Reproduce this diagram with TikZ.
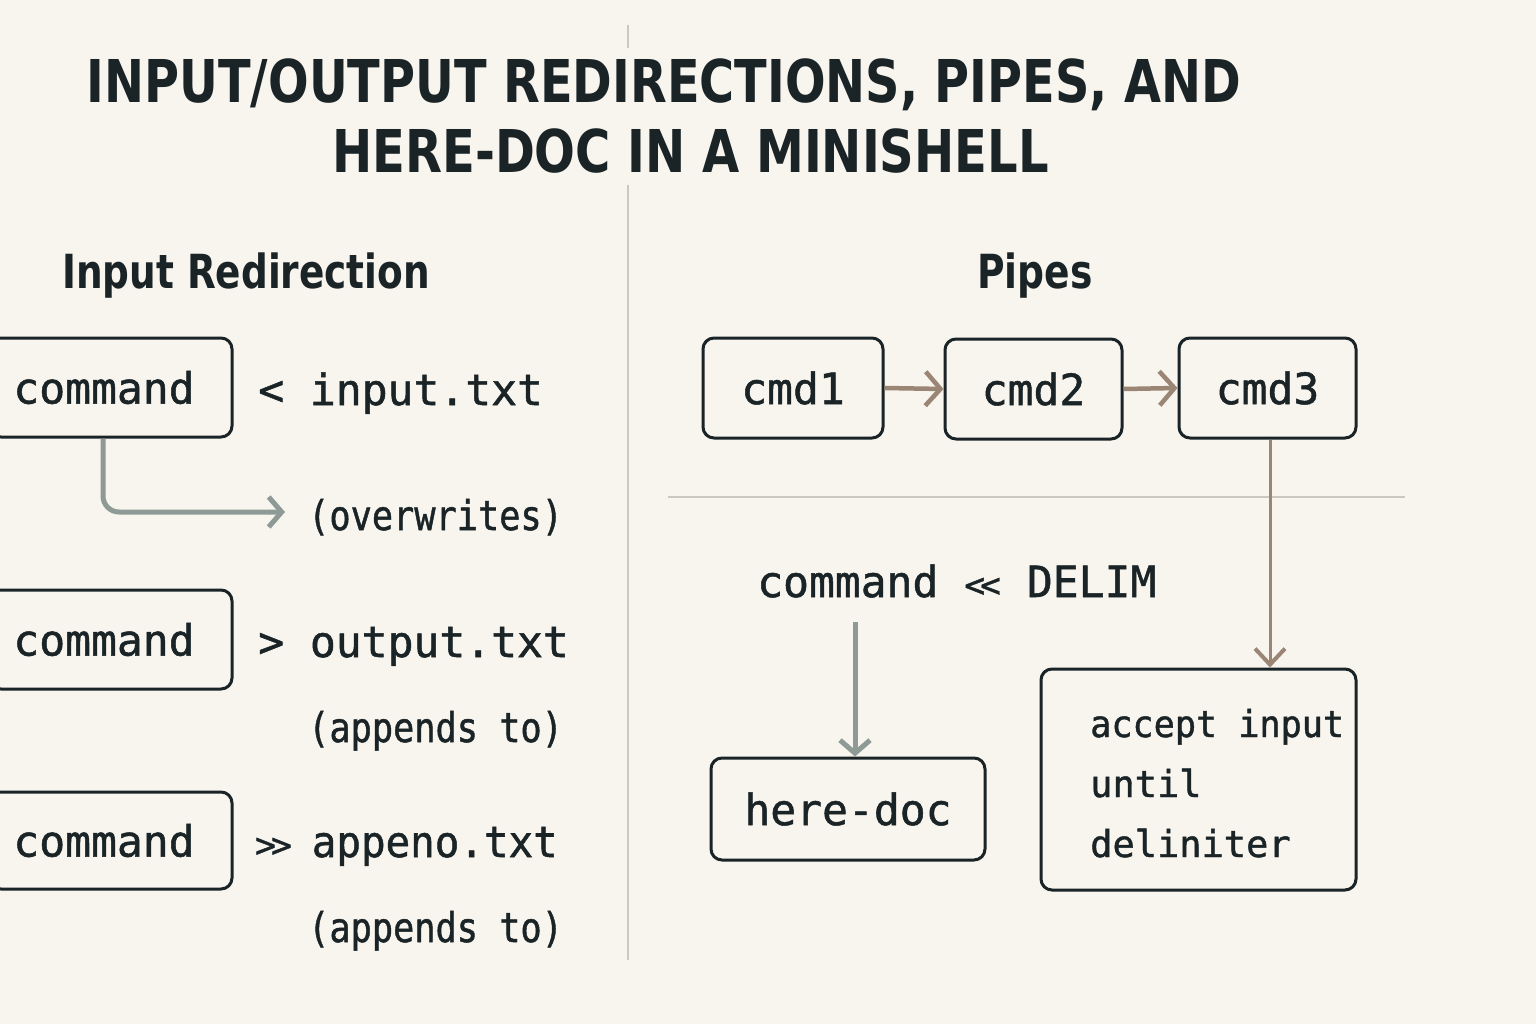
\documentclass[tikz,border=0pt]{standalone}
\usepackage{fontspec}
\usetikzlibrary{arrows.meta}
\newfontfamily\monof{DejaVu Sans Mono}[FakeBold=1.2]
\newfontfamily\titlef{DejaVu Sans Condensed Bold}
\definecolor{bgc}{HTML}{F8F4EE}
\definecolor{ink}{HTML}{1A2427}
\definecolor{grayarr}{HTML}{8E9A95}
\definecolor{brownarr}{HTML}{9B8574}
\definecolor{rule}{HTML}{CBC8C2}
\newcommand{\nx}[1]{\scalebox{0.86}[1]{#1}}
\tikzset{
  box/.style={draw=ink, line width=3pt, rounded corners=11pt, inner sep=0pt, text=ink,
    font=\monof\fontsize{43}{50}\selectfont},
  lbl/.style={anchor=base west, inner sep=0pt, text=ink, font=\monof\fontsize{43}{50}\selectfont},
  sub/.style={anchor=base west, inner sep=0pt, text=ink, font=\monof\fontsize{41}{48}\selectfont},
  grayflow/.style={draw=grayarr, line width=5pt, -{Straight Barb[length=13pt,width=30pt,line width=5pt]}},
  pipeflow/.style={draw=brownarr, line width=4.5pt, -{Straight Barb[length=15pt,width=34pt,line width=4.5pt]}},
  downflow/.style={draw=brownarr, line width=3pt, -{Straight Barb[length=16pt,width=30pt,line width=4pt]}},
  divider/.style={draw=rule, line width=2.5pt},
  ttl/.style={inner sep=0pt, text=ink, font=\titlef\fontsize{59}{66}\selectfont},
  head/.style={inner sep=0pt, text=ink, font=\titlef\fontsize{47}{54}\selectfont}
}
\begin{document}
\begin{tikzpicture}[x=1pt,y=-1pt]
\fill[bgc] (0,0) rectangle (1536,1024);
\useasboundingbox (0,0) rectangle (1536,1024);
% dividers
\draw[divider] (628,25) -- (628,48);
\draw[divider] (628,185) -- (628,960);
\draw[divider] (668,497) -- (1405,497);
% title
\node[ttl, anchor=base] (t1) at (664,103) {\scalebox{0.9}[1]{INPUT/OUTPUT REDIRECTIONS, PIPES, AND}};
\node[ttl, anchor=base] (t2) at (690.5,173) {\scalebox{0.905}[1]{HERE-DOC IN A MINISHELL}};
\node[head, anchor=base west] (h1) at (62,288) {\scalebox{0.885}[1]{Input Redirection}};
\node[head, anchor=base] (h2) at (1035,288) {\scalebox{0.89}[1]{Pipes}};
% left column
\node[box, minimum width=242pt, minimum height=99pt] (c1) at (111,387.5) {\hspace*{-14pt}command};
\node[box, minimum width=242pt, minimum height=99pt] (c2) at (111,639.5) {\hspace*{-14pt}command};
\node[box, minimum width=242pt, minimum height=97pt] (c3) at (111,840.5) {\hspace*{-14pt}command};
\node[lbl] (r1) at (258,405) {< input.txt};
\node[sub] (o1) at (308,530) {\nx{(overwrites)}};
\node[lbl] (r2) at (258,657) {> output.txt};
\node[sub] (o2) at (308,742) {\nx{(appends to)}};
\node[lbl] (r3) at (255,857) {\scalebox{0.8}{>\kern-6pt>}\kern20pt\scalebox{0.95}[1]{appeno.txt}};
\node[sub] (o3) at (308,942) {\nx{(appends to)}};
\coordinate (a1) at (285,512);
\draw[grayflow, rounded corners=16pt] (c1.south -| 103,0) -- (103,512) -- (a1);
% pipes
\node[box, minimum width=180pt, minimum height=100pt] (p1) at (793,388) {cmd1};
\node[box, minimum width=177pt, minimum height=100pt] (p2) at (1033.5,389) {cmd2};
\node[box, minimum width=177pt, minimum height=100pt] (p3) at (1267.5,388) {cmd3};
\draw[pipeflow] (p1.east) -- (p2.west);
\draw[pipeflow] (p2.east) -- (p3.west);
% here-doc
\node[lbl] (hd) at (757,597) {command \scalebox{0.8}{<\kern-6pt<}\kern26pt DELIM};
\coordinate (hs) at (855,622);
\node[box, minimum width=274pt, minimum height=102pt] (hb) at (848,809) {here-doc};
\draw[grayflow] (hs) -- (hb.north -| hs);
\node[box, minimum width=315pt, minimum height=221pt] (acc) at (1198.5,779.5) {};
\node[anchor=base west, inner sep=0pt, text=ink, font=\monof\fontsize{37}{60}\selectfont, align=left] (acct) at (1090,857) {\scalebox{0.95}[1]{accept input}\\until\\deliniter};
\draw[downflow] (p3.south -| 1270,0) -- (acc.north -| 1270,0);
\end{tikzpicture}
\end{document}
